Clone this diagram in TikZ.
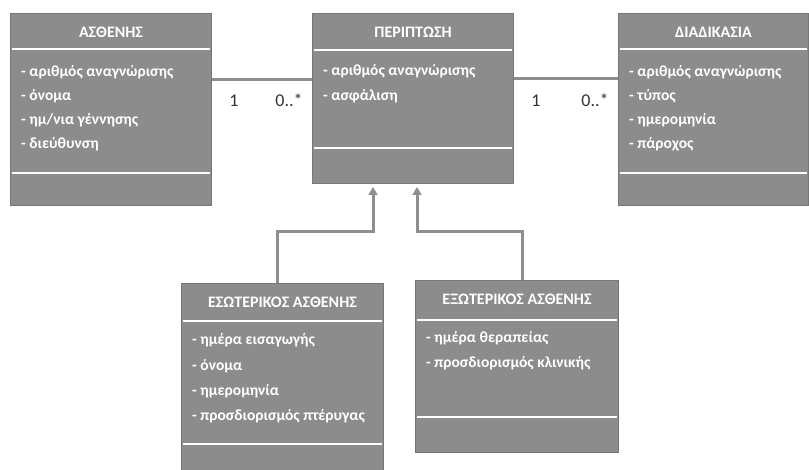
\documentclass[tikz,border=0pt]{standalone}
\usepackage{fontspec}
\setmainfont{Carlito}
\usetikzlibrary{calc,arrows.meta}
\definecolor{boxgray}{HTML}{8C8C8C}
\definecolor{edgegray}{HTML}{777777}
\definecolor{linegray}{HTML}{8E8E8E}
\definecolor{labelgray}{HTML}{333333}
\begin{document}
\begin{tikzpicture}[x=1pt,y=-1pt,
  classbox/.style={draw=edgegray, fill=boxgray, line width=1pt, anchor=north west, inner sep=0pt},
  sepline/.style={draw=white, line width=2.5pt},
  classtitle/.style={text=white, font=\fontsize{16}{18}\selectfont\bfseries, inner sep=0pt},
  attr/.style={text=white, font=\fontsize{15.5}{17}\selectfont\bfseries, anchor=west, inner sep=0pt},
  mult/.style={text=labelgray, font=\fontsize{18}{20}\selectfont, inner sep=0pt},
  assoc/.style={draw=linegray, line width=3pt},
  inherit/.style={draw=linegray, line width=3pt, -{Triangle[width=9pt,length=8pt]}, shorten >=3pt}
]
\useasboundingbox (0,0) rectangle (809,470);

% ---------- ΑΣΘΕΝΗΣ
\node[classbox, minimum width=201pt, minimum height=192pt] (asth) at (10,13) {};
\draw[sepline] ($(asth.north west)+(2,36)$) -- ($(asth.north east)+(-2,36)$);
\draw[sepline] ($(asth.north west)+(2,160)$) -- ($(asth.north east)+(-2,160)$);
\node[classtitle] (asthT) at ($(asth.north)+(0,19)$) {ΑΣΘΕΝΗΣ};
\node[attr] (asthA1) at ($(asth.north west)+(11,59)$) {- αριθμός αναγνώρισης};
\node[attr] (asthA2) at ($(asth.north west)+(11,83)$) {- όνομα};
\node[attr] (asthA3) at ($(asth.north west)+(11,107)$) {- ημ/νια γέννησης};
\node[attr] (asthA4) at ($(asth.north west)+(11,131)$) {- διεύθυνση};

% ---------- ΠΕΡΙΠΤΩΣΗ
\node[classbox, minimum width=201pt, minimum height=170pt] (per) at (312,13) {};
\draw[sepline] ($(per.north west)+(2,37)$) -- ($(per.north east)+(-2,37)$);
\draw[sepline] ($(per.north west)+(2,135)$) -- ($(per.north east)+(-2,135)$);
\node[classtitle] (perT) at ($(per.north)+(0,19)$) {ΠΕΡΙΠΤΩΣΗ};
\node[attr] (perA1) at ($(per.north west)+(11,58)$) {- αριθμός αναγνώρισης};
\node[attr] (perA2) at ($(per.north west)+(11,83)$) {- ασφάλιση};

% ---------- ΔΙΑΔΙΚΑΣΙΑ
\node[classbox, minimum width=190pt, minimum height=192pt] (diad) at (618,13) {};
\draw[sepline] ($(diad.north west)+(2,36)$) -- ($(diad.north east)+(-2,36)$);
\draw[sepline] ($(diad.north west)+(2,160)$) -- ($(diad.north east)+(-2,160)$);
\node[classtitle] (diadT) at ($(diad.north)+(0,19)$) {ΔΙΑΔΙΚΑΣΙΑ};
\node[attr] (diadA1) at ($(diad.north west)+(11,59)$) {- αριθμός αναγνώρισης};
\node[attr] (diadA2) at ($(diad.north west)+(11,83)$) {- τύπος};
\node[attr] (diadA3) at ($(diad.north west)+(11,107)$) {- ημερομηνία};
\node[attr] (diadA4) at ($(diad.north west)+(11,131)$) {- πάροχος};

% ---------- ΕΣΩΤΕΡΙΚΟΣ ΑΣΘΕΝΗΣ
\node[classbox, minimum width=202pt, minimum height=200pt] (eso) at (181,283) {};
\draw[sepline] ($(eso.north west)+(2,38)$) -- ($(eso.north east)+(-2,38)$);
\draw[sepline] ($(eso.north west)+(2,161)$) -- ($(eso.north east)+(-2,161)$);
\node[classtitle] (esoT) at ($(eso.north)+(0,19)$) {ΕΣΩΤΕΡΙΚΟΣ ΑΣΘΕΝΗΣ};
\node[attr] (esoA1) at ($(eso.north west)+(11,57)$) {- ημέρα εισαγωγής};
\node[attr] (esoA2) at ($(eso.north west)+(11,83)$) {- όνομα};
\node[attr] (esoA3) at ($(eso.north west)+(11,108)$) {- ημερομηνία};
\node[attr] (esoA4) at ($(eso.north west)+(11,133)$) {- προσδιορισμός πτέρυγας};

% ---------- ΕΞΩΤΕΡΙΚΟΣ ΑΣΘΕΝΗΣ
\node[classbox, minimum width=203pt, minimum height=172pt] (exo) at (415,280) {};
\draw[sepline] ($(exo.north west)+(2,40)$) -- ($(exo.north east)+(-2,40)$);
\draw[sepline] ($(exo.north west)+(2,137)$) -- ($(exo.north east)+(-2,137)$);
\node[classtitle] (exoT) at ($(exo.north)+(0,19)$) {ΕΞΩΤΕΡΙΚΟΣ ΑΣΘΕΝΗΣ};
\node[attr] (exoA1) at ($(exo.north west)+(11,58)$) {- ημέρα θεραπείας};
\node[attr] (exoA2) at ($(exo.north west)+(11,83)$) {- προσδιορισμός κλινικής};

% ---------- associations
\draw[assoc] ($(asth.north east)+(0,67)$) coordinate (c1) -- (c1 -| per.west);
\draw[assoc] ($(per.north east)+(0,66)$) coordinate (c2) -- (c2 -| diad.west);
\node[mult] (m1) at ($(asth.north east)+(22,88)$) {1};
\node[mult] (m2) at ($(per.north west)+(-23,87)$) {0..*};
\node[mult] (m3) at ($(per.north east)+(22,88)$) {1};
\node[mult] (m4) at ($(diad.north west)+(-23,87)$) {0..*};

% ---------- generalisations
\draw[inherit] ($(eso.north west)+(96,0)$) |- ($(per.south west)+(61,48)$) -- ($(per.south west)+(61,0)$);
\draw[inherit] ($(exo.north west)+(107,0)$) |- ($(per.south west)+(105,48)$) -- ($(per.south west)+(105,0)$);
\end{tikzpicture}
\end{document}
